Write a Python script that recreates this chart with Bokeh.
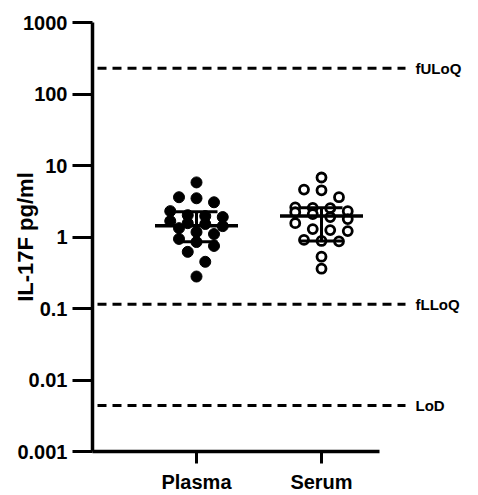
import numpy as np
from bokeh.plotting import figure
from bokeh.models import FixedTicker, CustomJSTickFormatter, ColumnDataSource
from bokeh.core.properties import value
from bokeh.embed import file_html
from bokeh.resources import INLINE

# ---------------- data ----------------
groups = ["Plasma", "Serum"]
plasma = [5.8, 3.6, 3.48, 3.06, 2.30, 2.02, 1.96, 1.90, 1.67, 1.56, 1.52,
          1.42, 1.33, 1.17, 1.10, 0.94, 0.85, 0.75, 0.62, 0.45, 0.28]
serum = [6.8, 4.6, 4.5, 3.6, 2.6, 2.56, 2.53, 2.3, 2.22, 2.09, 1.9,
         1.78, 1.56, 1.29, 1.25, 1.21, 0.91, 0.88, 0.87, 0.53, 0.36]
center = [1.44, 1.97]
lower = [0.86, 0.88]
upper = [2.25, 2.57]
ref_names = ["fULoQ", "fLLoQ", "LoD"]
ref_values = [230, 0.115, 0.0044]
y_ticks = [0.001, 0.01, 0.1, 1, 10, 100, 1000]
y_title = "IL-17F pg/ml"

# ---------------- layout constants ----------------
FONT = "Liberation Sans"
W, H = 478, 495
LEFT, TOP, BOTTOM = 92, 22, 42
frame_w = W - LEFT
frame_h = H - TOP - BOTTOM
px_per_unit = 125.0
x_start = 1 - 104 / px_per_unit
x_end = x_start + frame_w / px_per_unit
px_per_decade = frame_h / 6.0

step = 17.5 / px_per_unit          # horizontal spacing of dots
row_px = 10.0                      # vertical size of a swarm row
max_per_row = 4


def swarm(vals, cx):
    vals = np.asarray(vals, float)
    ys = np.log10(vals) * px_per_decade
    order = np.argsort(vals)[::-1]
    rows, cur = [], []
    for i in order:
        if cur and (ys[cur[0]] - ys[i] > row_px or len(cur) >= max_per_row):
            rows.append(cur)
            cur = []
        cur.append(i)
    rows.append(cur)
    xs = np.zeros(len(vals))
    for row in rows:
        n = len(row)
        for k, i in enumerate(row):
            xs[i] = cx + (k - (n - 1) / 2) * step
    return xs


centers_x = [1, 2]

p = figure(width=W, height=H, x_range=(x_start, x_end), y_range=(0.001, 1000),
           y_axis_type="log", output_backend="svg", toolbar_location=None,
           min_border_left=LEFT, min_border_right=0, min_border_top=TOP,
           min_border_bottom=BOTTOM)
p.outline_line_color = None
p.grid.visible = False
p.background_fill_color = "white"
p.border_fill_color = "white"

# reference lines
ref_x0 = 1 - 99 / px_per_unit
ref_x1 = 1 + 209 / px_per_unit
ref_src = ColumnDataSource(dict(
    x0=[ref_x0] * len(ref_values), x1=[ref_x1] * len(ref_values),
    y=ref_values, name=ref_names,
    lx=[1 + 219 / px_per_unit] * len(ref_values)))
p.segment(x0="x0", y0="y", x1="x1", y1="y", source=ref_src,
          line_color="black", line_width=3, line_dash="9 6")
p.text(x="lx", y="y", text="name", source=ref_src, text_font=value(FONT),
       text_font_style="bold", text_font_size="15px", text_baseline="middle",
       text_align="left", text_color="black")

# points
p.scatter(swarm(plasma, centers_x[0]), plasma, size=11, marker="circle",
          fill_color="black", line_color="black", line_width=1)
p.scatter(swarm(serum, centers_x[1]), serum, size=9, marker="circle",
          fill_color="white", line_color="black", line_width=2.8)

# summary lines
half_mean = 41.5 / px_per_unit
half_cap = 21 / px_per_unit
cx = np.array(centers_x, float)
p.segment(x0=cx - half_mean, y0=center, x1=cx + half_mean, y1=center,
          line_color="black", line_width=3.5)
p.segment(x0=cx, y0=lower, x1=cx, y1=upper, line_color="black", line_width=3)
p.segment(x0=cx - half_cap, y0=upper, x1=cx + half_cap, y1=upper,
          line_color="black", line_width=3)
p.segment(x0=cx - half_cap, y0=lower, x1=cx + half_cap, y1=lower,
          line_color="black", line_width=3)

# axes
ya = p.yaxis[0]
ya.ticker = FixedTicker(ticks=y_ticks, minor_ticks=[])
ya.formatter = CustomJSTickFormatter(code="return String(tick);")
ya.axis_line_width = 3.5
ya.major_tick_line_width = 3
ya.major_tick_out = 20
ya.major_tick_in = 0
ya.minor_tick_line_color = None
ya.major_label_standoff = 5
ya.major_label_text_font = FONT
ya.major_label_text_font_style = "bold"
ya.major_label_text_font_size = "20px"
ya.major_label_text_color = "black"
ya.axis_label = y_title
ya.axis_label_text_font = FONT
ya.axis_label_text_font_style = "bold"
ya.axis_label_text_font_size = "22px"
ya.axis_label_text_color = "black"
ya.axis_label_standoff = -24

xa = p.xaxis[0]
xa.ticker = FixedTicker(ticks=centers_x, minor_ticks=[])
xa.major_label_overrides = {c: g for c, g in zip(centers_x, groups)}
xa.bounds = (x_start, 1 + 183 / px_per_unit)
xa.axis_line_width = 3.5
xa.major_tick_line_width = 3
xa.major_tick_out = 12
xa.major_tick_in = 0
xa.minor_tick_line_color = None
xa.major_label_standoff = 7
xa.major_label_text_font = FONT
xa.major_label_text_font_style = "bold"
xa.major_label_text_font_size = "20px"
xa.major_label_text_color = "black"

open("out.html", "w").write(file_html(p, INLINE))
